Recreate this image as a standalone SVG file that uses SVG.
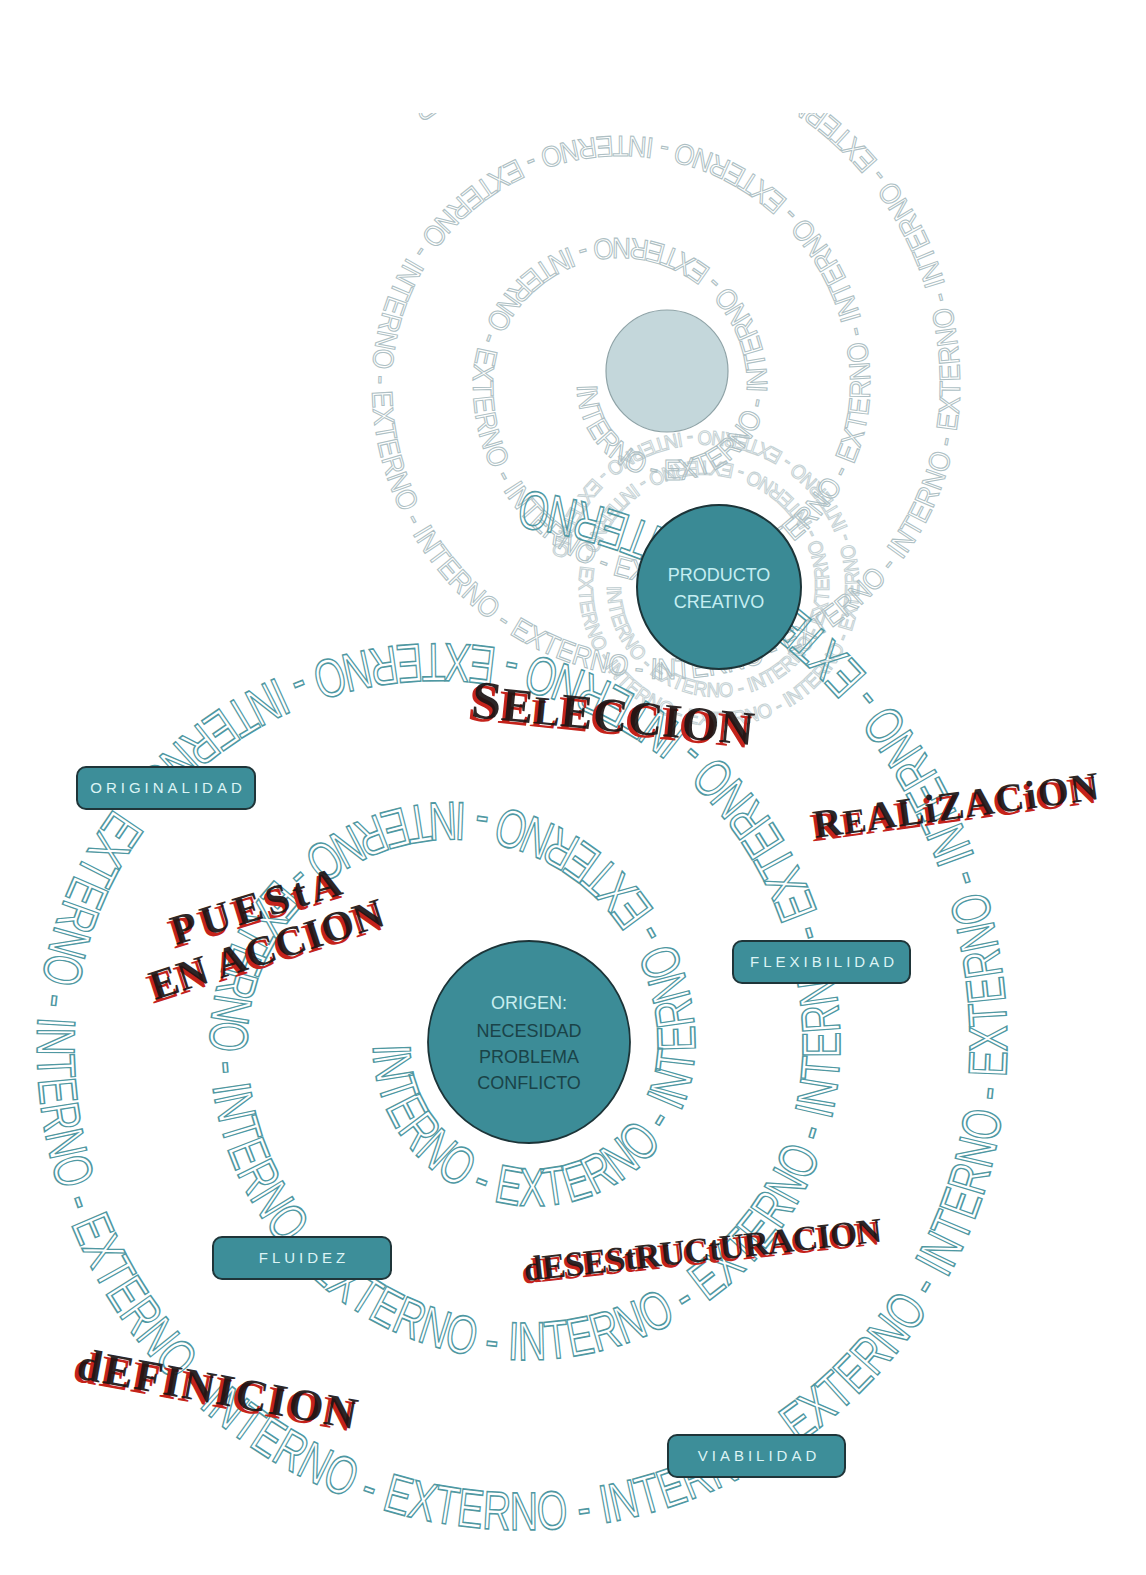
<svg xmlns="http://www.w3.org/2000/svg" width="1146" height="1575" viewBox="0 0 1146 1575">
<style>
.sp{font-family:"Liberation Sans",Arial,sans-serif;fill:none;stroke:#4f98a2;stroke-width:1.6;}
.fa{font-family:"Liberation Sans",Arial,sans-serif;fill:none;stroke:#aebfc4;stroke-width:1.1;}
.box{fill:#3d8e99;stroke:#1f3539;stroke-width:2;}
.lbl{font-family:"Liberation Sans",Arial,sans-serif;font-size:15px;letter-spacing:4px;fill:#dcf4f5;text-anchor:middle;}
.ctxt{font-family:"Liberation Sans",Arial,sans-serif;font-size:18px;text-anchor:middle;}
.stamp{font-family:"Liberation Serif","Times New Roman",serif;font-weight:bold;}
.red{fill:#c4231b;}
.blk{fill:#1c1414;opacity:0.92;}
</style>
<defs>
<path id="spiralMain" d="M 373 1045 A 161 161 0 0 0 695 1045 A 242.5 242.5 0 0 0 210 1045 A 315 315 0 0 0 840 1045 A 401.5 401.5 0 0 0 37 1045 A 485 485 0 0 0 1007 1045 A 560 560 0 0 0 520.1 489.8"/>
<path id="spiralTop" d="M 577 385 A 95 95 0 0 0 767 385 A 147 147 0 0 0 473 385 A 198.5 198.5 0 0 0 870 385 A 249 249 0 0 0 372 385 A 294 294 0 0 0 960 385 A 345 345 0 0 0 417 102"/>
<path id="spiralProd" d="M 607 586 A 111 111 0 0 0 829 586 A 125 125 0 0 0 579 586 A 140 140 0 0 0 859 586 A 155 155 0 0 0 549 586"/>
<clipPath id="clipTop"><rect x="0" y="113" width="1146" height="1462"/></clipPath>
</defs>
<rect x="0" y="0" width="1146" height="1575" fill="#ffffff"/>

<g id="spirals">
<g clip-path="url(#clipTop)">
<text class="fa" font-size="29"><textPath href="#spiralTop" textLength="4037" lengthAdjust="spacingAndGlyphs">INTERNO - EXTERNO - INTERNO - EXTERNO - INTERNO - EXTERNO - INTERNO - EXTERNO - INTERNO - EXTERNO - INTERNO - EXTERNO - INTERNO - EXTERNO - INTERNO - EXTERNO - INTERNO - EXTERNO - INTERNO - EXTERNO - INTERNO - EXTERNO - INTERNO - EXTERNO - INTERNO - EXTERNO - INTERNO - EXTERNO</textPath></text>
<text class="fa" font-size="20" opacity="0.7"><textPath href="#spiralProd" textLength="1637" lengthAdjust="spacingAndGlyphs">INTERNO - EXTERNO - INTERNO - EXTERNO - INTERNO - EXTERNO - INTERNO - EXTERNO - INTERNO - EXTERNO - INTERNO - EXTERNO - INTERNO - EXTERNO - INTERNO - EXTERNO</textPath></text>
</g>
<text class="sp" font-size="54"><textPath href="#spiralMain" textLength="5844.6" lengthAdjust="spacingAndGlyphs">INTERNO - EXTERNO - INTERNO - EXTERNO - INTERNO - EXTERNO - INTERNO - EXTERNO - INTERNO - EXTERNO - INTERNO - EXTERNO - INTERNO - EXTERNO - INTERNO - EXTERNO - INTERNO - EXTERNO - INTERNO - EXTERNO - INTERNO - EXTERNO - INTERNO - EXTERNO - INTERNO - EXTERNO - INTERNO</textPath></text>
</g>

<g id="node-ghost">
<circle cx="667" cy="371" r="61" fill="#c4d7db" stroke="#8fa3a7" stroke-width="1.2"/>
</g>

<g id="node-producto">
<circle cx="719" cy="587" r="82" fill="#3a8a95" stroke="#1c3438" stroke-width="2"/>
<text class="ctxt" x="719" y="581" fill="#c5eef2">PRODUCTO</text>
<text class="ctxt" x="719" y="608" fill="#c5eef2">CREATIVO</text>
</g>

<g id="node-origen">
<circle cx="529" cy="1042" r="101" fill="#3c8c97" stroke="#1c3438" stroke-width="1.8"/>
<text class="ctxt" x="529" y="1009" fill="#c8eef0">ORIGEN:</text>
<text class="ctxt" x="529" y="1037" fill="#1a4348">NECESIDAD</text>
<text class="ctxt" x="529" y="1063" fill="#1a4348">PROBLEMA</text>
<text class="ctxt" x="529" y="1089" fill="#1a4348">CONFLICTO</text>
</g>

<g id="node-originalidad">
<rect class="box" x="77" y="767" width="178" height="42" rx="9"/>
<text class="lbl" x="168" y="793">ORIGINALIDAD</text>
</g>
<g id="node-flexibilidad">
<rect class="box" x="733" y="941" width="177" height="42" rx="9"/>
<text class="lbl" x="824" y="967">FLEXIBILIDAD</text>
</g>
<g id="node-fluidez">
<rect class="box" x="213" y="1237" width="178" height="42" rx="9"/>
<text class="lbl" x="304" y="1263">FLUIDEZ</text>
</g>
<g id="node-viabilidad">
<rect class="box" x="668" y="1435" width="177" height="42" rx="9"/>
<text class="lbl" x="759" y="1461">VIABILIDAD</text>
</g>

<g id="stamp-seleccion" class="stamp" transform="translate(470 717) rotate(5.7)">
<text class="red" x="-3" y="3" font-size="48" textLength="284" lengthAdjust="spacing"><tspan font-size="54">S</tspan>E<tspan font-size="40">L</tspan>ECCION</text>
<text class="blk" x="0" y="0" font-size="48" textLength="284" lengthAdjust="spacing"><tspan font-size="54">S</tspan>E<tspan font-size="40">L</tspan>ECCION</text>
</g>

<g id="stamp-realizacion" class="stamp" transform="translate(815 838) rotate(-7.8)">
<text class="red" x="-3" y="3" font-size="40" textLength="288" lengthAdjust="spacing">R<tspan font-size="34">E</tspan>ALiZACiON</text>
<text class="blk" x="0" y="0" font-size="40" textLength="288" lengthAdjust="spacing">R<tspan font-size="34">E</tspan>ALiZACiON</text>
</g>

<g id="stamp-puesta" class="stamp">
<g transform="translate(176 945) rotate(-17)">
<text class="red" x="-3" y="3" font-size="42" textLength="176" lengthAdjust="spacing">PUEStA</text>
<text class="blk" x="0" y="0" font-size="42" textLength="176" lengthAdjust="spacing">PUEStA</text>
</g>
<g transform="translate(155 1000) rotate(-18)">
<text class="red" x="-3" y="3" font-size="42" textLength="244" lengthAdjust="spacing">EN ACCION</text>
<text class="blk" x="0" y="0" font-size="42" textLength="244" lengthAdjust="spacing">EN ACCION</text>
</g>
</g>

<g id="stamp-desestructuracion" class="stamp" transform="translate(525 1281) rotate(-6.3)">
<text class="red" x="-2.5" y="2.5" font-size="35" textLength="360" lengthAdjust="spacing">dESEStRUCtURACION</text>
<text class="blk" x="0" y="0" font-size="35" textLength="360" lengthAdjust="spacing">dESEStRUCtURACION</text>
</g>

<g id="stamp-definicion" class="stamp" transform="translate(75 1378) rotate(10.4)">
<text class="red" x="-3" y="3" font-size="45" textLength="284" lengthAdjust="spacing">dEFINICION</text>
<text class="blk" x="0" y="0" font-size="45" textLength="284" lengthAdjust="spacing">dEFINICION</text>
</g>
</svg>
